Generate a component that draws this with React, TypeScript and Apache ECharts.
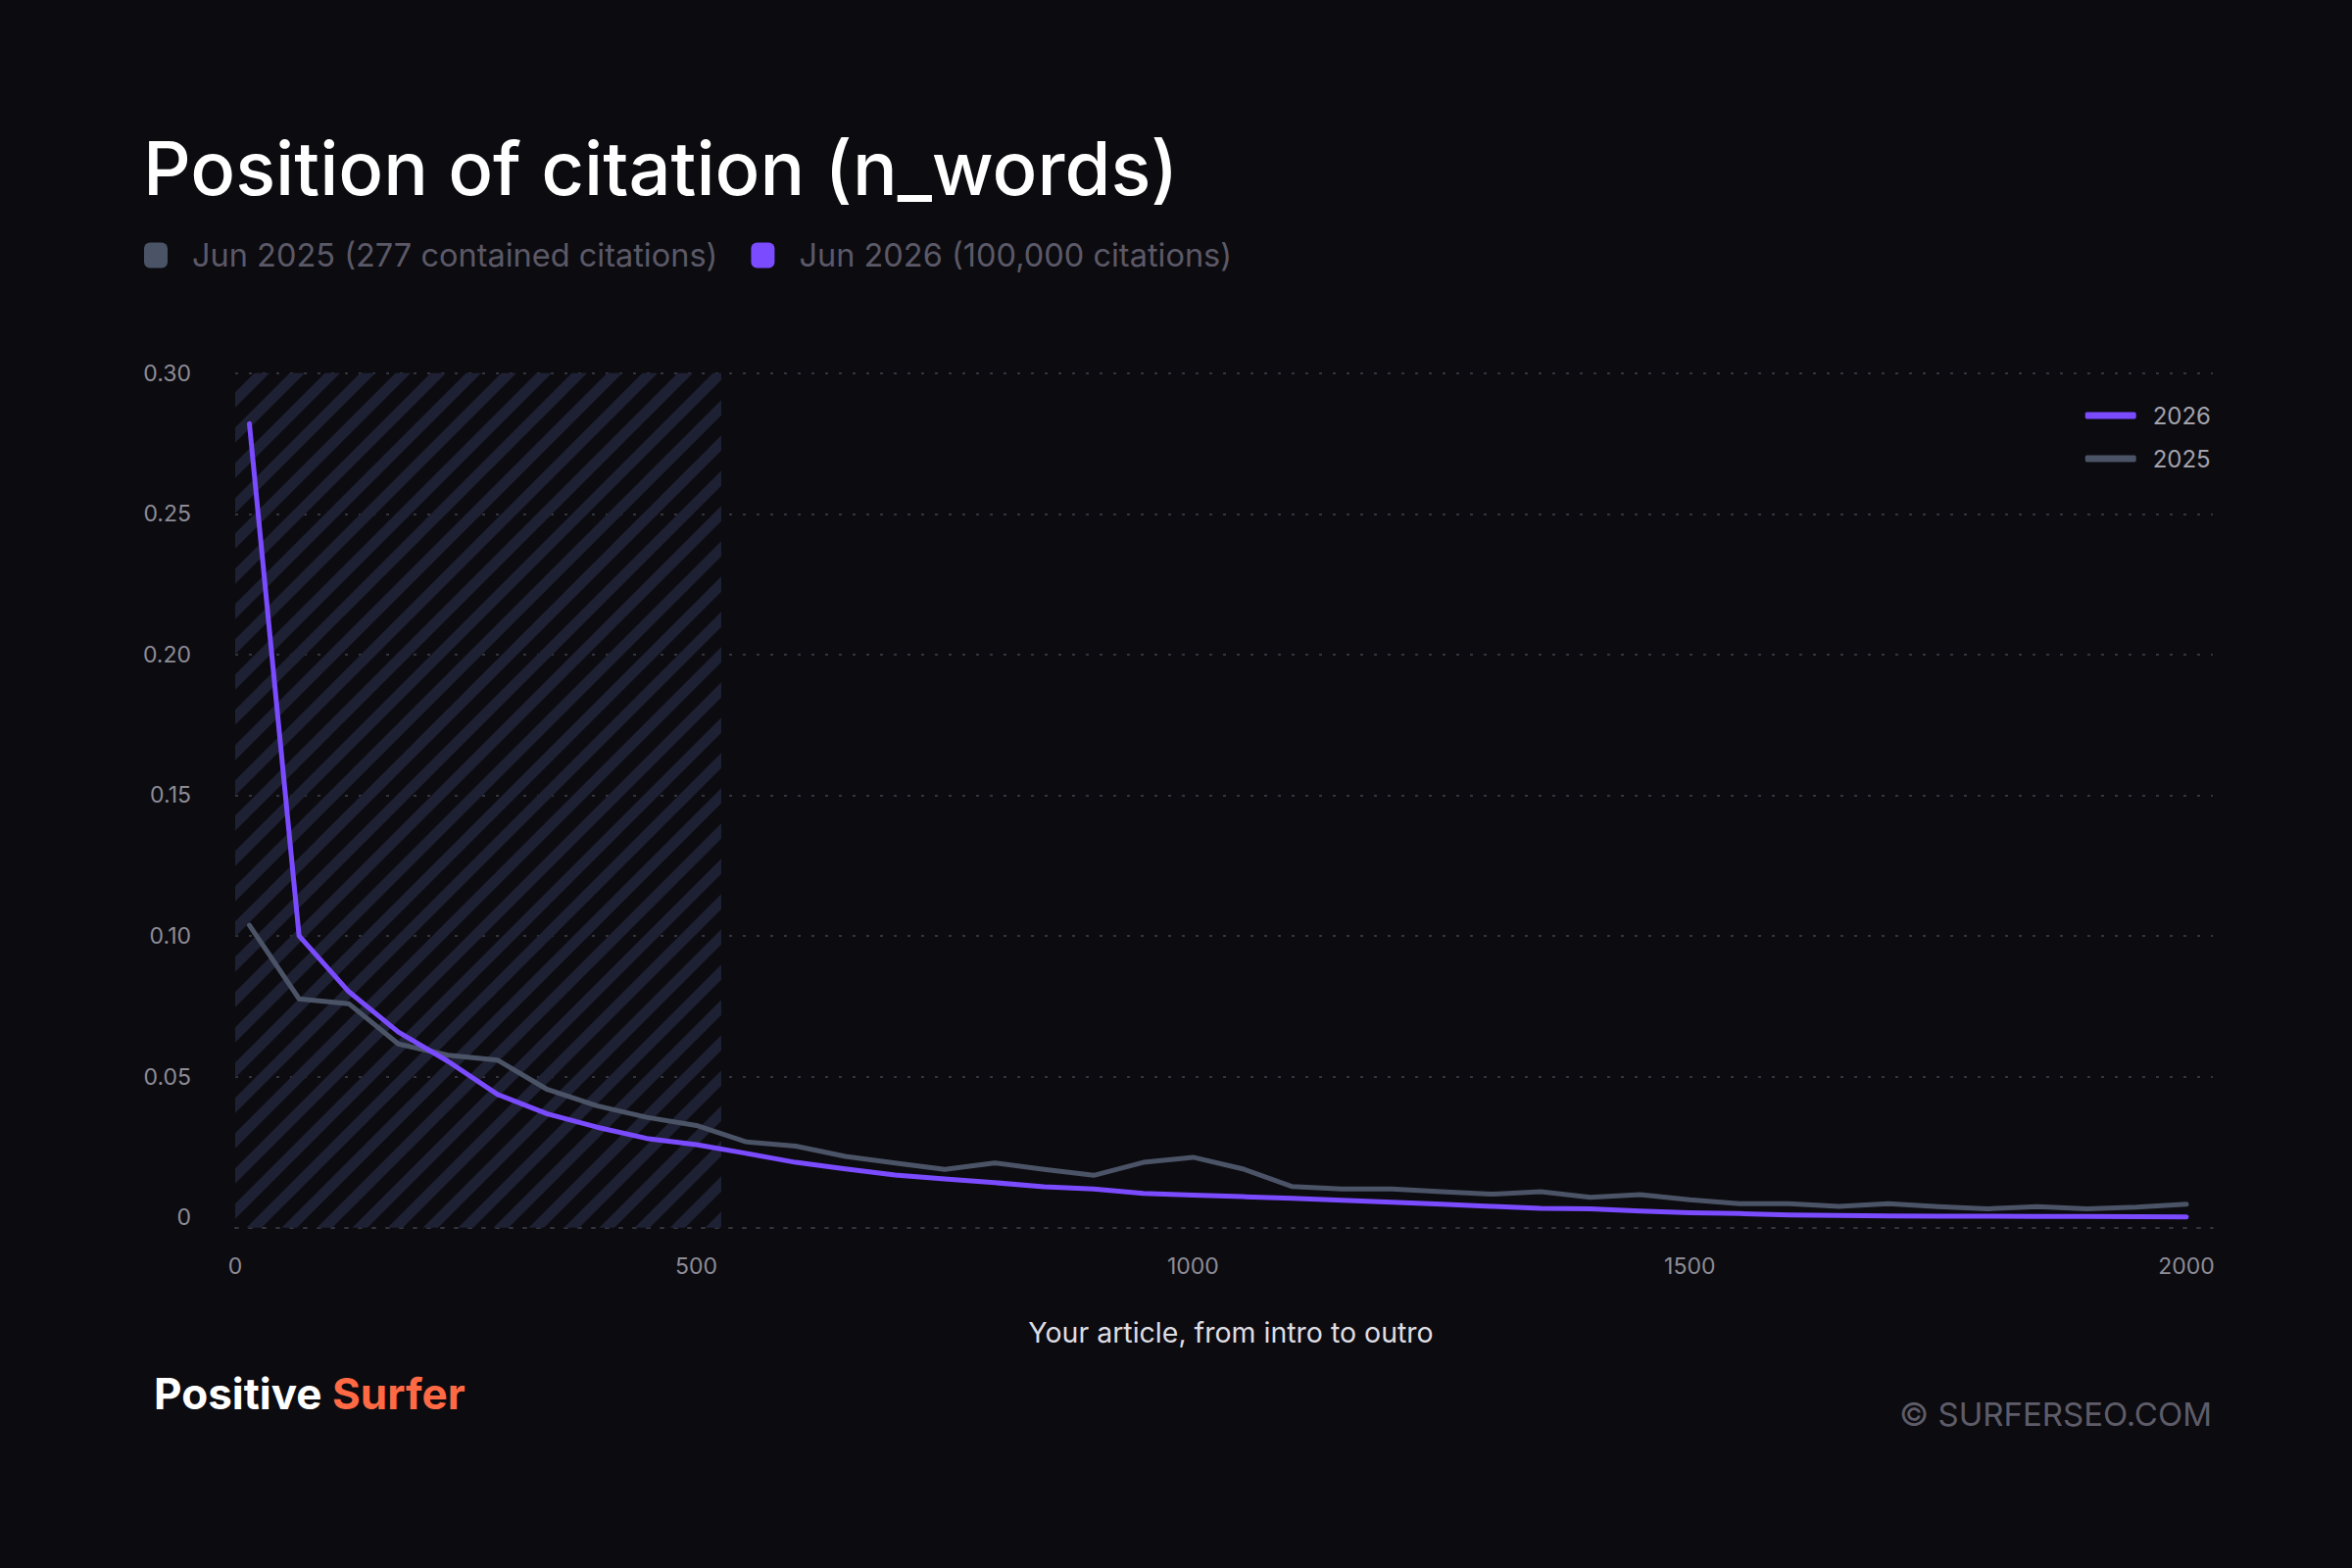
import React, { useEffect, useRef } from "react";
import * as echarts from "echarts";

// Word position at the end of each 50-word bin
const WORD_POS = [
  50, 100, 150, 200, 250, 300, 350, 400, 450, 500,
  550, 600, 650, 700, 750, 800, 850, 900, 950, 1000,
  1050, 1100, 1150, 1200, 1250, 1300, 1350, 1400, 1450, 1500,
  1550, 1600, 1650, 1700, 1750, 1800, 1850, 1900, 1950, 2000,
];

const SHARE_2026 = [
  0.282, 0.1, 0.0802, 0.0658, 0.0554, 0.0436, 0.0367, 0.032, 0.028, 0.0258,
  0.0227, 0.0195, 0.0172, 0.015, 0.0136, 0.0123, 0.0108, 0.01, 0.0085, 0.0079,
  0.0073, 0.0067, 0.006, 0.0053, 0.0046, 0.0039, 0.0032, 0.003, 0.0022, 0.0016,
  0.0013, 0.0008, 0.0006, 0.0005, 0.0004, 0.0004, 0.0003, 0.0003, 0.0002, 0.0001,
];

const SHARE_2025 = [
  0.1038, 0.0776, 0.0759, 0.0616, 0.0576, 0.0558, 0.0454, 0.0396, 0.0355, 0.0326,
  0.0268, 0.0253, 0.0216, 0.0193, 0.017, 0.0193, 0.017, 0.0149, 0.0195, 0.0213,
  0.0172, 0.0109, 0.01, 0.01, 0.0091, 0.0082, 0.0091, 0.0071, 0.008, 0.0062,
  0.0048, 0.0048, 0.0039, 0.0048, 0.0038, 0.003, 0.0038, 0.003, 0.0036, 0.0046,
];

const X_TICKS = [0, 500, 1000, 1500, 2000];
const Y_TICKS = [0, 0.05, 0.1, 0.15, 0.2, 0.25, 0.3];
const Y_GRID = [0.05, 0.1, 0.15, 0.2, 0.25, 0.3];
const INTRO_END = 525;

const X_MIN = 35.7;
const X_MAX = 2026.6;
const Y_MIN = -0.0037;
const Y_MAX = 0.3;

const SERIES_NAMES = ["2025", "2026"];
const LEGEND_LABELS: Record<string, string> = {
  "2025": "Jun 2025 (277 contained citations)",
  "2026": "Jun 2026 (100,000 citations)",
};

const TITLE = "Position of citation (n_words)";
const X_NAME = "Your article, from intro to outro";

const BG = "#0c0b10";
const PURPLE = "#7b4bff";
const SLATE = "#4b5366";
const FONT = "Inter, 'Noto Sans', sans-serif";

function makeHatch(): string {
  const s = 36;
  const c = document.createElement("canvas");
  c.width = s;
  c.height = s;
  const ctx = c.getContext("2d")!;
  ctx.strokeStyle = "#1e2133";
  ctx.lineWidth = 11;
  ctx.lineCap = "square";
  ctx.beginPath();
  ctx.moveTo(-2, s + 2);
  ctx.lineTo(s + 2, -2);
  ctx.moveTo(-s / 2, s / 2);
  ctx.lineTo(s / 2, -s / 2);
  ctx.moveTo(s / 2, s + s / 2);
  ctx.lineTo(s + s / 2, s / 2);
  ctx.stroke();
  return c.toDataURL();
}

export default function App() {
  const ref = useRef<HTMLDivElement>(null);

  useEffect(() => {
    document.body.style.margin = "0";
    document.body.style.background = BG;
    if (!ref.current) return;
    const chart = echarts.init(ref.current, undefined, { renderer: "svg" });

    const hatch = makeHatch();
    const pairs = (vals: number[]) => WORD_POS.map((x, i) => [x, vals[i]]);
    const dotted = { color: "#34343e", width: 2, type: [3, 11] as number[] };

    chart.setOption({
      animation: false,
      backgroundColor: BG,
      textStyle: { fontFamily: FONT },
      title: {
        text: TITLE,
        left: 146,
        top: 133,
        padding: 0,
        textStyle: { fontSize: 76, fontWeight: 500, color: "#ffffff", fontFamily: FONT },
      },
      legend: [
        {
          data: SERIES_NAMES,
          left: 147,
          top: 244,
          padding: 0,
          orient: "horizontal",
          icon: "roundRect",
          itemWidth: 24,
          itemHeight: 26,
          itemGap: 34,
          formatter: (name: string) => `{pad| }{t|${LEGEND_LABELS[name]}}`,
          textStyle: {
            color: "#5b5967",
            fontSize: 32.5,
            fontFamily: FONT,
            rich: {
              pad: { width: 20, fontSize: 32.5 },
              t: { fontSize: 32.5, color: "#5b5967", fontFamily: FONT },
            },
          },
        },
        {
          data: ["2026", "2025"],
          right: 144,
          top: 412,
          padding: 0,
          orient: "vertical",
          icon: "roundRect",
          itemWidth: 52,
          itemHeight: 7,
          itemGap: 20,
          formatter: (name: string) => `{pad| }{t|${name}}`,
          textStyle: {
            color: "#a3a2ab",
            fontSize: 24,
            fontFamily: FONT,
            rich: {
              pad: { width: 12, fontSize: 24 },
              t: { fontSize: 24, color: "#a3a2ab", fontFamily: FONT },
            },
          },
        },
      ],
      grid: { left: 240, right: 142, top: 380.7, bottom: 347.3, containLabel: false },
      xAxis: {
        type: "value",
        min: X_MIN,
        max: X_MAX,
        name: X_NAME,
        nameLocation: "middle",
        nameGap: 92,
        nameTextStyle: {
          color: "#dedde3",
          fontSize: 28.5,
          fontFamily: FONT,
          padding: [0, 0, 0, 14],
        },
        axisLine: { show: true, onZero: false, lineStyle: dotted },
        axisTick: { show: false },
        splitLine: { show: false },
        axisLabel: {
          customValues: X_TICKS.map((v) => (v === 0 ? X_MIN : v)),
          formatter: (v: number) => (v < 100 ? "0" : String(v)),
          color: "#8d8c96",
          fontSize: 23,
          margin: 28,
          fontFamily: FONT,
        },
      },
      yAxis: {
        type: "value",
        min: Y_MIN,
        max: Y_MAX,
        axisLine: { show: false },
        axisTick: { show: false, customValues: Y_GRID },
        splitLine: { show: true, lineStyle: dotted },
        axisLabel: {
          customValues: Y_TICKS,
          formatter: (v: number) => (v === 0 ? "0" : v.toFixed(2)),
          color: "#8d8c96",
          fontSize: 23,
          margin: 45,
          fontFamily: FONT,
        },
      },
      series: [
        {
          name: "2025",
          type: "line",
          data: pairs(SHARE_2025),
          symbol: "none",
          color: SLATE,
          lineStyle: { color: SLATE, width: 5, cap: "round", join: "round" },
          z: 2,
          markArea: {
            silent: true,
            itemStyle: {
              color: { image: hatch, repeat: "repeat", imageWidth: 36, imageHeight: 36 },
            },
            data: [[{ xAxis: X_MIN, yAxis: Y_MIN }, { xAxis: INTRO_END, yAxis: Y_MAX }]],
          },
        },
        {
          name: "2026",
          type: "line",
          data: pairs(SHARE_2026),
          symbol: "none",
          color: PURPLE,
          lineStyle: { color: PURPLE, width: 5, cap: "round", join: "round" },
          z: 3,
        },
      ],
      graphic: [
        {
          type: "text",
          left: 157,
          top: 1400,
          style: {
            text: "{a|Positive }{b|Surfer}",
            rich: {
              a: { fill: "#ffffff", fontSize: 44, fontWeight: 700, fontFamily: FONT },
              b: { fill: "#ff6a45", fontSize: 44, fontWeight: 700, fontFamily: FONT },
            },
          },
        },
        {
          type: "text",
          right: 143,
          top: 1426,
          style: {
            text: "© SURFERSEO.COM",
            fill: "#5e5c68",
            fontSize: 33,
            fontFamily: FONT,
          },
        },
      ],
    });

    return () => chart.dispose();
  }, []);

  return (
    <div
      ref={ref}
      style={{ position: "fixed", left: 0, top: 0, width: 2400, height: 1600, background: BG }}
    />
  );
}
